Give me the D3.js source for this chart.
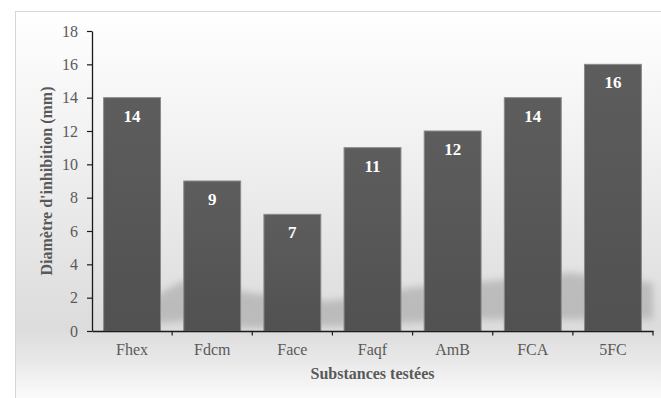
<!DOCTYPE html>
<html>
<head>
<meta charset="utf-8">
<script src="https://cdn.jsdelivr.net/npm/d3@7/dist/d3.min.js"></script>
<style>
  html, body { margin: 0; padding: 0; background: #ffffff; }
  svg { display: block; }
  svg text { font-family: "Liberation Serif", "Times New Roman", serif; }
</style>
</head>
<body>
<svg id="chart" width="661" height="398"></svg>
<script>
// Inhibition zone diameters per tested substance
const categories = ["Fhex", "Fdcm", "Face", "Faqf", "AmB", "FCA", "5FC"];
const values = [14, 9, 7, 11, 12, 14, 16];
const yTicks = [0, 2, 4, 6, 8, 10, 12, 14, 16, 18];
const yTitle = "Diamètre d'inhibition (mm)";
const xTitle = "Substances testées";

const W = 661, H = 398;
const m = { left: 92, right: 8, top: 31, bottom: 67 };
const serif = "Liberation Serif";

const svg = d3.select("#chart");
const defs = svg.append("defs");

// Panel background: white at top fading to light grey at the baseline, then back to white
const bg = defs.append("linearGradient")
  .attr("id", "bgGrad").attr("gradientUnits", "userSpaceOnUse")
  .attr("x1", 0).attr("y1", 11).attr("x2", 0).attr("y2", H);
[[0, "#ffffff"], [0.3, "#f3f3f3"], [0.82, "#dcdcdc"], [0.9, "#e8e8e8"], [1, "#fbfbfb"]]
  .forEach(([o, c]) => bg.append("stop").attr("offset", o).attr("stop-color", c));

const barGrad = defs.append("linearGradient")
  .attr("id", "barGrad").attr("x1", 0).attr("y1", 0).attr("x2", 0).attr("y2", 1);
barGrad.append("stop").attr("offset", 0).attr("stop-color", "#5d5d5d");
barGrad.append("stop").attr("offset", 1).attr("stop-color", "#515151");

const blur = defs.append("filter").attr("id", "soft")
  .attr("x", "-10%").attr("y", "-50%").attr("width", "120%").attr("height", "200%");
blur.append("feGaussianBlur").attr("stdDeviation", 3.5);

svg.append("rect")
  .attr("x", 15.5).attr("y", 11.5).attr("width", W).attr("height", H)
  .attr("fill", "url(#bgGrad)").attr("stroke", "#d6d6d6");

const x = d3.scaleBand()
  .domain(categories)
  .range([m.left, W - m.right])
  .paddingInner(0.29)
  .paddingOuter(0.145);

const y = d3.scaleLinear()
  .domain([0, 18])
  .range([H - m.bottom, m.top]);

// Soft decorative shadow sweeping behind the bars near the baseline
const swoosh = [
  [150, y(1.9)], [182, y(3.0)], [250, y(2.3)], [330, y(1.8)], [410, y(2.6)],
  [490, y(3.0)], [570, y(3.5)], [653, y(2.9)],
  [653, y(0.7)], [570, y(0.7)], [490, y(0.7)], [410, y(0.5)], [330, y(0.3)],
  [250, y(0.2)], [182, y(0.6)], [150, y(0.4)]
];
svg.append("path")
  .attr("d", d3.line().curve(d3.curveLinearClosed)(swoosh))
  .attr("fill", "#b0b0b0")
  .attr("opacity", 0.75)
  .attr("filter", "url(#soft)");

// Bars
svg.append("g").selectAll("rect")
  .data(values)
  .join("rect")
  .attr("x", (d, i) => x(categories[i]))
  .attr("y", d => y(d))
  .attr("width", x.bandwidth())
  .attr("height", d => y(0) - y(d))
  .attr("fill", "url(#barGrad)")
  .attr("stroke", "#8a8a8a")
  .attr("stroke-width", 1);

// Value labels inside the bar tops
svg.append("g").selectAll("text")
  .data(values)
  .join("text")
  .attr("x", (d, i) => x(categories[i]) + x.bandwidth() / 2)
  .attr("y", d => y(d) + 24)
  .attr("text-anchor", "middle")
  .style("font-family", serif)
  .style("font-weight", "bold")
  .style("font-size", "17px")
  .attr("fill", "#ffffff")
  .text(d => d);

// Y axis
const yAxis = svg.append("g")
  .attr("transform", `translate(${m.left},0)`)
  .call(d3.axisLeft(y).tickValues(yTicks).tickSize(5).tickPadding(9).tickSizeOuter(0));
yAxis.select(".domain").attr("stroke", "#1a1a1a").attr("stroke-width", 1.3);
yAxis.selectAll(".tick line").attr("stroke", "#1a1a1a").attr("stroke-width", 1.2);
yAxis.selectAll(".tick text")
  .style("font-family", serif).style("font-size", "16px").attr("fill", "#5a5a5a");

// X axis: labels centred under bars, tick marks on category boundaries
const xAxis = svg.append("g")
  .attr("transform", `translate(0,${y(0)})`)
  .call(d3.axisBottom(x).tickSize(0).tickPadding(13).tickSizeOuter(0));
xAxis.select(".domain").attr("stroke", "#1a1a1a").attr("stroke-width", 1.3);
xAxis.selectAll(".tick text")
  .style("font-family", serif).style("font-size", "16px").attr("fill", "#5a5a5a");

const step = x.step();
const bounds = categories.map((c, i) => x(c) - (step - x.bandwidth()) / 2 + step);
xAxis.append("g").selectAll("line")
  .data(bounds)
  .join("line")
  .attr("x1", d => d).attr("x2", d => d)
  .attr("y1", 0).attr("y2", 4.5)
  .attr("stroke", "#1a1a1a").attr("stroke-width", 1.2);

// Axis titles
svg.append("text")
  .attr("x", (m.left + W - m.right) / 2)
  .attr("y", 379)
  .attr("text-anchor", "middle")
  .style("font-family", serif).style("font-weight", "bold").style("font-size", "16px")
  .attr("fill", "#595959")
  .text(xTitle);

svg.append("text")
  .attr("transform", `translate(52,${(y(0) + y(18)) / 2}) rotate(-90)`)
  .attr("text-anchor", "middle")
  .style("font-family", serif).style("font-weight", "bold").style("font-size", "16px")
  .attr("fill", "#595959")
  .text(yTitle);
</script>
</body>
</html>
